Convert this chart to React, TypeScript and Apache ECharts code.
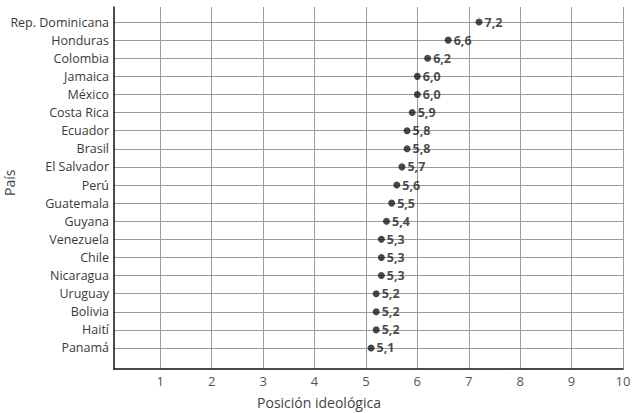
import React, { useEffect, useRef } from "react";
import * as echarts from "echarts";

const countries = [
  "Rep. Dominicana", "Honduras", "Colombia", "Jamaica", "México", "Costa Rica",
  "Ecuador", "Brasil", "El Salvador", "Perú", "Guatemala", "Guyana", "Venezuela",
  "Chile", "Nicaragua", "Uruguay", "Bolivia", "Haití", "Panamá",
];
const values = [7.2, 6.6, 6.2, 6.0, 6.0, 5.9, 5.8, 5.8, 5.7, 5.6, 5.5, 5.4, 5.3, 5.3, 5.3, 5.2, 5.2, 5.2, 5.1];
const xTicks = [1, 2, 3, 4, 5, 6, 7, 8, 9, 10];
const xTitle = "Posición ideológica";
const yTitle = "País";

const FONT = "'Open Sans', sans-serif";

export default function App() {
  const ref = useRef<HTMLDivElement>(null);
  useEffect(() => {
    if (!ref.current) return;
    const chart = echarts.init(ref.current, null, { renderer: "svg" });
    const yIdx = countries.map((_, i) => i);
    chart.setOption({
      animation: false,
      grid: { left: 114, right: 15, top: 7, bottom: 44, containLabel: false },
      xAxis: {
        type: "value",
        min: 0.1,
        max: 10,
        axisLine: { show: true, onZero: false, lineStyle: { color: "#111", width: 1.5 } },
        axisTick: { show: false, customValues: xTicks },
        axisLabel: {
          customValues: xTicks,
          color: "#555",
          fontSize: 13,
          fontFamily: FONT,
          margin: 5,
          formatter: (v: number) => String(v),
        },
        splitLine: { show: true, lineStyle: { color: "#9a9a9a", width: 1 } },
      },
      yAxis: {
        type: "value",
        inverse: true,
        min: -0.83,
        max: 19.16,
        axisLine: { show: true, onZero: false, lineStyle: { color: "#111", width: 1.5 } },
        axisTick: { show: false, customValues: yIdx },
        axisLabel: {
          customValues: yIdx,
          color: "#3a3a3a",
          fontSize: 12.5,
          fontFamily: FONT,
          margin: 5,
          formatter: (v: number) => countries[Math.round(v)] ?? "",
        },
        splitLine: { show: true, lineStyle: { color: "#9a9a9a", width: 1 } },
      },
      series: [
        {
          type: "scatter",
          symbol: "circle",
          symbolSize: 7,
          itemStyle: { color: "#1a1a1a" },
          data: values.map((v, i) => [v, i]),
          label: {
            show: true,
            position: "right",
            distance: 2,
            color: "#1a1a1a",
            fontSize: 12.5,
            fontWeight: "bold",
            fontFamily: FONT,
            formatter: (p: any) => p.value[0].toFixed(1).replace(".", ","),
          },
        },
      ],
      graphic: [
        {
          type: "text",
          left: "center",
          top: 395,
          style: { text: xTitle, fill: "#444", fontSize: 14, fontFamily: FONT },
        },
        {
          type: "text",
          x: 2,
          y: 196,
          rotation: Math.PI / 2,
          style: { text: yTitle, fill: "#444", fontSize: 14, fontFamily: FONT },
        },
      ],
    });
    return () => chart.dispose();
  }, []);
  return <div ref={ref} style={{ width: 638, height: 413, position: "absolute", left: 0, top: 0 }} />;
}
